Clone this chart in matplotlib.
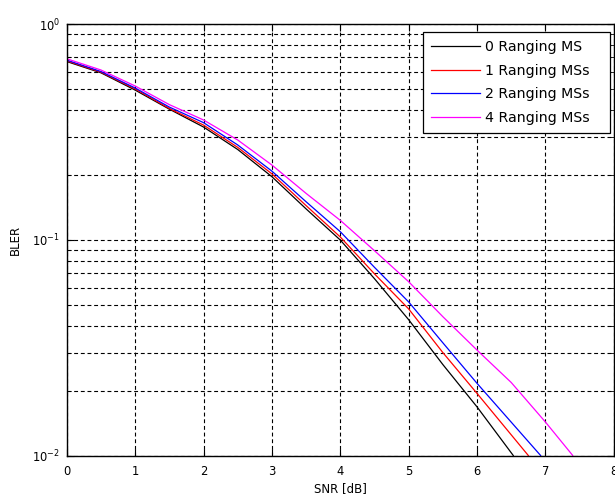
import numpy as np
import matplotlib
matplotlib.use("Agg")
import matplotlib.pyplot as plt
from matplotlib.ticker import LogLocator, FixedLocator, NullFormatter, FuncFormatter

plt.rcParams['font.family'] = ['DejaVu Sans']
plt.rcParams['mathtext.default'] = 'regular'

# SNR points (dB) and BLER
snr_0 = [0, 0.5, 1, 1.5, 2, 2.5, 3, 3.5, 4, 4.5, 5, 5.5, 6, 6.53]
bler_0 = [0.67, 0.594, 0.494, 0.403, 0.333, 0.262, 0.196, 0.139, 0.0997, 0.066, 0.0426, 0.0264, 0.0168, 0.01]

snr_1 = [0, 0.5, 1, 1.5, 2, 2.5, 3, 3.5, 4, 4.5, 5, 5.5, 6, 6.75]
bler_1 = [0.675, 0.598, 0.50, 0.406, 0.340, 0.268, 0.202, 0.144, 0.103, 0.0695, 0.0478, 0.0300, 0.0194, 0.01]

snr_2 = [0, 0.5, 1, 1.5, 2, 2.5, 3, 3.5, 4, 4.5, 5, 5.5, 6, 6.93]
bler_2 = [0.68, 0.602, 0.505, 0.412, 0.349, 0.275, 0.208, 0.150, 0.109, 0.0745, 0.0515, 0.0333, 0.0216, 0.01]

snr_4 = [0, 0.5, 1, 1.5, 2, 2.5, 3, 3.5, 4, 4.5, 5, 5.5, 6, 6.5, 7, 7.4]
bler_4 = [0.69, 0.612, 0.516, 0.423, 0.359, 0.290, 0.222, 0.164, 0.123, 0.089, 0.0639, 0.0440, 0.0308, 0.0218, 0.0143, 0.01]

labels = ["0 Ranging MS", "1 Ranging MSs", "2 Ranging MSs", "4 Ranging MSs"]
colors = ["black", "red", "blue", "magenta"]

fig = plt.figure(figsize=(6.15, 5.0), dpi=100)
ax = fig.add_axes([0.1086, 0.089, 0.8894, 0.863])

for x, y, lab, c in zip([snr_0, snr_1, snr_2, snr_4],
                        [bler_0, bler_1, bler_2, bler_4], labels, colors):
    ax.semilogy(x, y, color=c, lw=0.9, label=lab)

ax.set_xlim(0, 8)
ax.set_ylim(1e-2, 1e0)
ax.xaxis.set_major_locator(FixedLocator(range(0, 9)))
ax.yaxis.set_major_locator(LogLocator(base=10, numticks=5))
ax.yaxis.set_minor_locator(LogLocator(base=10, subs=np.arange(2, 10), numticks=10))
ax.yaxis.set_minor_formatter(NullFormatter())
ax.yaxis.set_major_formatter(FuncFormatter(lambda v, p: "$10^{%d}$" % int(round(np.log10(v)))))

gls = (0, (3.5, 2.5))
ax.grid(True, which='major', axis='both', color='k', lw=0.8, linestyle=gls)
ax.grid(True, which='minor', axis='y', color='k', lw=0.8, linestyle=gls)

ax.tick_params(which='both', direction='in', top=True, right=True, labelsize=8.3)
ax.tick_params(which='major', length=5)
ax.tick_params(which='minor', length=3)
ax.tick_params(axis='x', pad=7)
ax.tick_params(axis='y', pad=5)
for s in ax.spines.values():
    s.set_linewidth(1.0)

ax.set_xlabel("SNR [dB]", fontsize=8.5, labelpad=3)
ax.set_ylabel("BLER", fontsize=8.5, labelpad=7)

leg = ax.legend(loc='upper left', bbox_to_anchor=(0.651, 0.747, 0.342, 0.234),
                mode='expand', borderaxespad=0,
                fontsize=10.2, handlelength=3.5, handletextpad=0.35, labelspacing=0.68,
                borderpad=0.55, fancybox=False, framealpha=1, edgecolor='black')
leg.get_frame().set_linewidth(0.9)

fig.savefig("out.png", dpi=100)
